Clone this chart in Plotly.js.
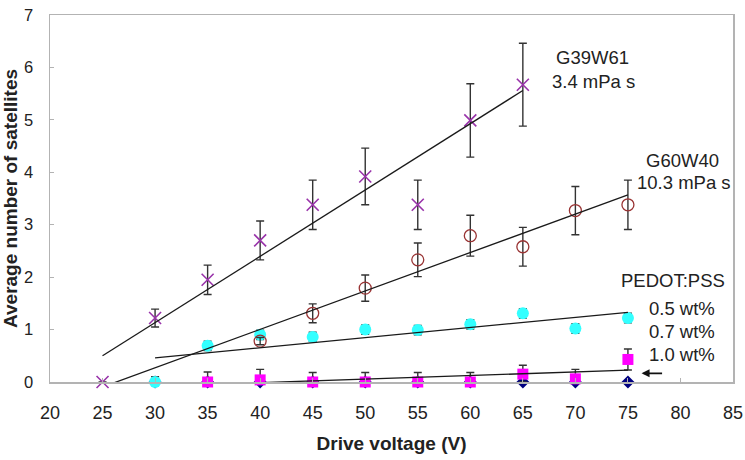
<!DOCTYPE html>
<html>
<head>
<meta charset="utf-8">
<script src="https://cdn.plot.ly/plotly-3.0.1.min.js"></script>
<style>
  html, body { margin: 0; padding: 0; background: #fff; }
  #chart { width: 745px; height: 460px; }
</style>
</head>
<body>
<div id="chart"></div>
<script>
// Satellite counts vs. drive voltage for each ink

// G39W61, 3.4 mPa s
const g39Voltage = [25, 30, 35, 40, 45, 50, 55, 60, 65];
const g39Mean    = [0, 1.22, 1.95, 2.70, 3.38, 3.92, 3.38, 4.99, 5.67];
const g39Err     = [0, 0.17, 0.28, 0.37, 0.47, 0.54, 0.47, 0.70, 0.79];

// G60W40, 10.3 mPa s
const g60Voltage = [40, 45, 50, 55, 60, 65, 70, 75];
const g60Mean    = [0.78, 1.31, 1.79, 2.33, 2.79, 2.58, 3.27, 3.38];
const g60Err     = [0.07, 0.18, 0.25, 0.32, 0.39, 0.37, 0.46, 0.47];

// PEDOT:PSS 0.5 wt%
const p05Voltage = [30, 35, 40, 45, 50, 55, 60, 65, 70, 75];
const p05Mean    = [0, 0.69, 0.90, 0.86, 1.00, 0.99, 1.10, 1.31, 1.02, 1.22];
const p05Err     = [0.10, 0.09, 0.09, 0.09, 0.09, 0.09, 0.09, 0.09, 0.09, 0.09];

// PEDOT:PSS 0.7 wt%
const p07Voltage = [35, 40, 45, 50, 55, 60, 65, 70, 75];
const p07Mean    = [0, 0.04, 0, 0, 0, 0, 0.15, 0.06, 0.43];
const p07Err     = [0.19, 0.20, 0.18, 0.18, 0.18, 0.18, 0.17, 0.18, 0.20];

// PEDOT:PSS 1.0 wt%
const p10Voltage = [30, 35, 40, 45, 50, 55, 60, 65, 70, 75];
const p10Mean    = [0, 0, 0, 0, 0, 0, 0, 0, 0, 0];

// Linear fits: y = slope * V + intercept, over [start, end]
const fitNames     = ['G39W61', 'G60W40', '0.5 wt%', '0.7 wt%'];
const fitSlope     = [0.1265, 0.0733, 0.0193, 0.0068];
const fitIntercept = [-2.6625, -1.928, -0.119, -0.285];
const fitStart     = [25, 25, 30, 35];
const fitEnd       = [65, 75, 75, 75];

const xTicks = [20, 25, 30, 35, 40, 45, 50, 55, 60, 65, 70, 75, 80, 85];
const yTicks = [0, 1, 2, 3, 4, 5, 6, 7];

const FONT = 'Liberation Sans, Arial, Helvetica, sans-serif';
const INK = '#222222';
const AXIS = '#b3b3b3';

// error bars never reach below the x axis
function errorBars(mean, err, color, thick) {
  return {
    type: 'data', symmetric: false,
    array: err,
    arrayminus: err.map((e, i) => Math.min(e, mean[i])),
    color: color, thickness: thick, width: 4, visible: true
  };
}

const traces = [];

traces.push({
  x: p10Voltage, y: p10Mean, type: 'scatter', mode: 'markers', cliponaxis: false,
  marker: { symbol: 'diamond', size: 10, color: '#000080' }, name: '1.0 wt%'
});

traces.push({
  x: p05Voltage, y: p05Mean, type: 'scatter', mode: 'markers', cliponaxis: false,
  marker: { symbol: 'circle', size: 12, color: '#33ffff' },
  error_y: errorBars(p05Mean, p05Err, '#333333', 1.4), name: '0.5 wt%'
});

traces.push({
  x: p07Voltage, y: p07Mean, type: 'scatter', mode: 'markers', cliponaxis: false,
  marker: { symbol: 'square', size: 11, color: '#ff00ff' },
  error_y: errorBars(p07Mean, p07Err, '#333333', 1.4), name: '0.7 wt%'
});

traces.push({
  x: g60Voltage, y: g60Mean, type: 'scatter', mode: 'markers', cliponaxis: false,
  marker: { symbol: 'circle-open', size: 12, color: '#993333', line: { width: 1.3, color: '#993333' } },
  error_y: errorBars(g60Mean, g60Err, '#333333', 1.4), name: 'G60W40'
});

traces.push({
  x: g39Voltage, y: g39Mean, type: 'scatter', mode: 'markers', cliponaxis: false,
  marker: { symbol: 'x-thin-open', size: 12, color: '#9933aa', line: { width: 1.6, color: '#9933aa' } },
  error_y: errorBars(g39Mean, g39Err, '#333333', 1.4), name: 'G39W61'
});

// trend lines (clipped to the plot area by the axes)
fitNames.forEach((n, i) => {
  const xs = [fitStart[i], fitEnd[i]];
  traces.push({
    x: xs, y: xs.map(v => fitSlope[i] * v + fitIntercept[i]),
    type: 'scatter', mode: 'lines', name: n + ' fit',
    line: { color: '#1a1a1a', width: 1.3 }
  });
});

function label(x, y, text) {
  return { x: x, y: y, xref: 'x', yref: 'y', text: text, showarrow: false,
           xanchor: 'center', yanchor: 'middle',
           font: { family: FONT, size: 18.5, color: INK } };
}

const layout = {
  width: 745, height: 460,
  margin: { l: 50, r: 12, t: 15, b: 78 },
  paper_bgcolor: '#ffffff', plot_bgcolor: '#ffffff',
  showlegend: false,
  font: { family: FONT, color: INK },
  xaxis: {
    range: [20, 85], tickmode: 'array', tickvals: xTicks,
    showgrid: false, zeroline: false,
    showline: true, linecolor: AXIS, linewidth: 1.5, mirror: true,
    ticks: 'inside', ticklen: 4, tickcolor: AXIS, tickwidth: 1,
    ticklabelstandoff: 14,
    tickfont: { family: FONT, size: 18, color: INK },
    title: { text: '<b>Drive voltage (V)</b>', font: { family: FONT, size: 19, color: INK }, standoff: 14 }
  },
  yaxis: {
    range: [0, 7], tickmode: 'array', tickvals: yTicks,
    showgrid: false, zeroline: false,
    showline: true, linecolor: AXIS, linewidth: 1.5, mirror: true,
    ticks: 'inside', ticklen: 4, tickcolor: AXIS, tickwidth: 1,
    ticklabelstandoff: 12,
    tickfont: { family: FONT, size: 16.5, color: INK },
    title: { text: '<b>Average number of satellites</b>', font: { family: FONT, size: 19, color: INK }, standoff: 6 }
  },
  annotations: [
    label(71.67, 6.18, 'G39W61'),
    label(71.77, 5.74, '3.4 mPa s'),
    label(80.24, 4.23, 'G60W40'),
    label(80.33, 3.81, '10.3 mPa s'),
    label(79.29, 1.945, 'PEDOT:PSS'),
    label(80.14, 1.41, '0.5 wt%'),
    label(80.14, 0.97, '0.7 wt%'),
    label(80.14, 0.53, '1.0 wt%'),
    { x: 76.3, y: 0.165, xref: 'x', yref: 'y', ax: 22, ay: 0, text: '',
      showarrow: true, arrowhead: 2, arrowsize: 1, arrowwidth: 1.6, arrowcolor: '#111111', standoff: 0 }
  ]
};

Plotly.newPlot('chart', traces, layout, { staticPlot: true, displayModeBar: false });
</script>
</body>
</html>
